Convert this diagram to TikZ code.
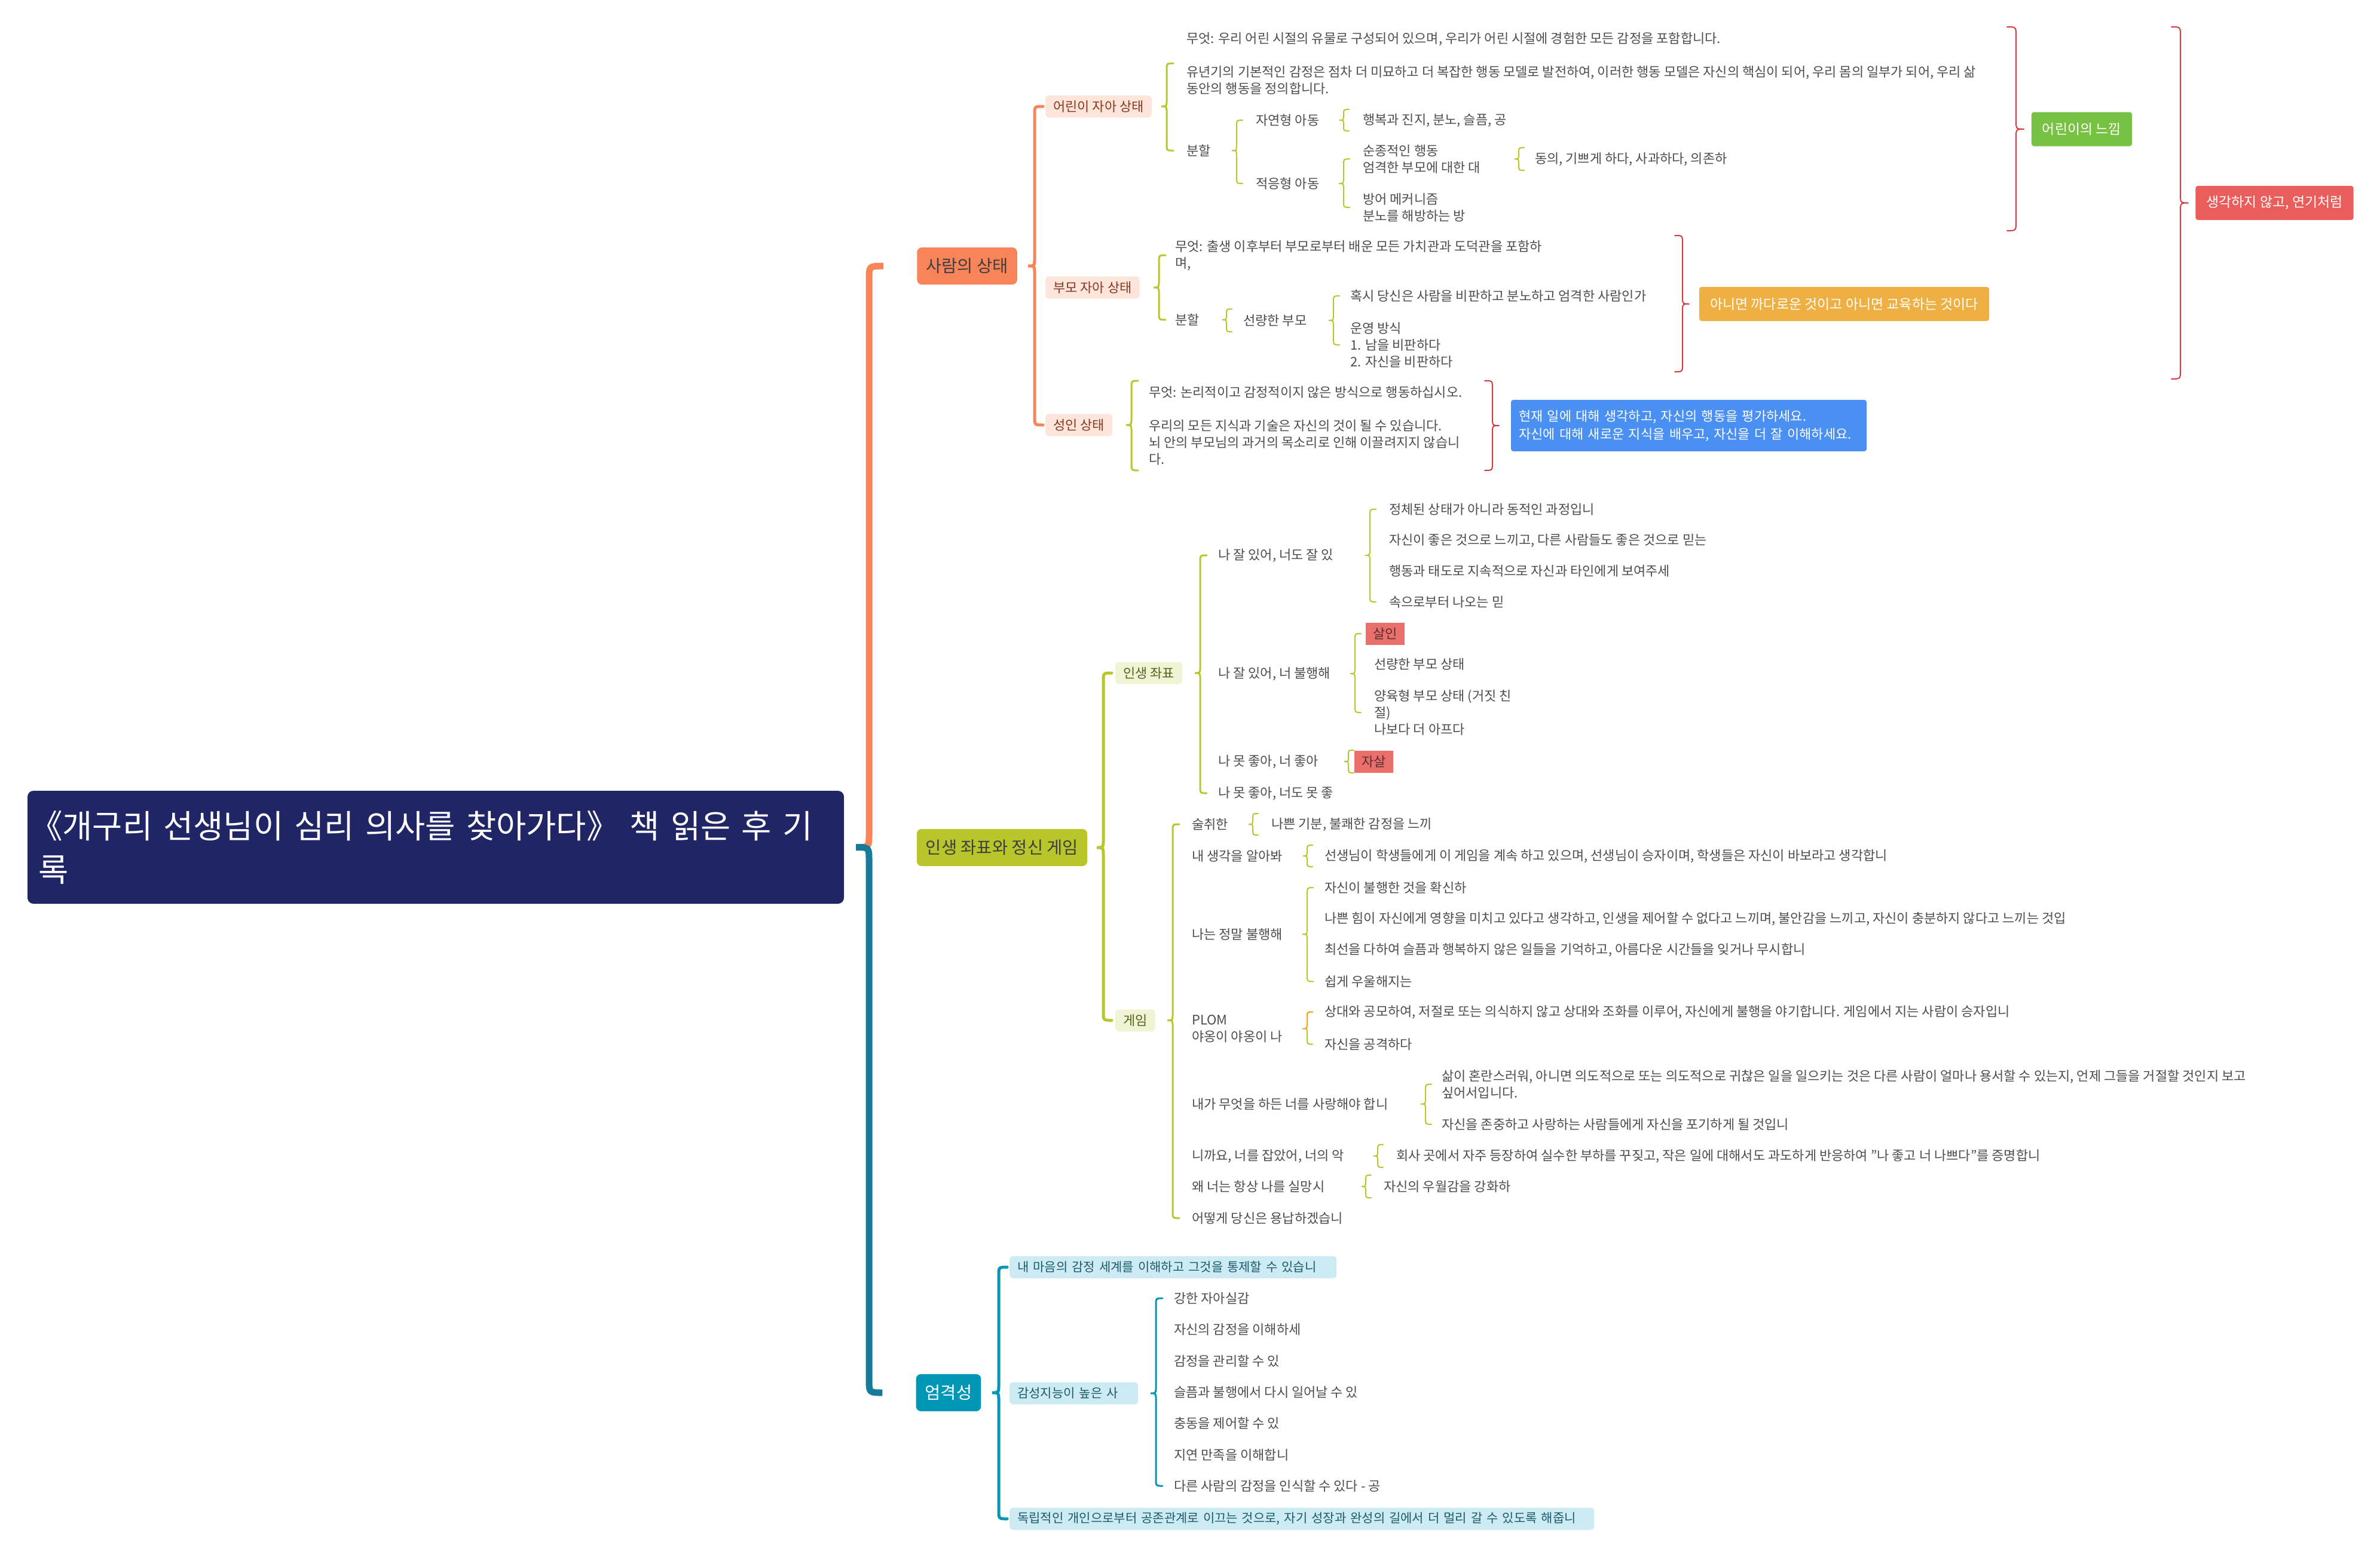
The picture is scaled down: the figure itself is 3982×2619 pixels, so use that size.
\documentclass[tikz,border=0pt]{standalone}
\usepackage{fontspec}
\setmainfont{Noto Sans CJK KR}
\usetikzlibrary{calc}
\definecolor{rootblue}{HTML}{202565}
\definecolor{orangeM}{HTML}{F98459}
\definecolor{greenM}{HTML}{B8C62B}
\definecolor{tealM}{HTML}{0097B7}
\definecolor{tealT}{HTML}{157B98}
\definecolor{maintxt}{HTML}{3F3F3F}
\definecolor{pinkbg}{HTML}{FEE5DC}
\definecolor{pinktxt}{HTML}{86391E}
\definecolor{greenbg}{HTML}{F0F4D5}
\definecolor{greentxt}{HTML}{56641A}
\definecolor{bluebg}{HTML}{CDEBF3}
\definecolor{bluetxt}{HTML}{1D5A6C}
\definecolor{txtgrey}{HTML}{4D4D4D}
\definecolor{redbr}{HTML}{D23A3F}
\definecolor{sumgreen}{HTML}{77C143}
\definecolor{sumred}{HTML}{E95D5B}
\definecolor{sumorange}{HTML}{EEB042}
\definecolor{sumblue}{HTML}{4990F2}
\definecolor{salmon}{HTML}{EA6F6B}
\definecolor{salmontxt}{HTML}{55302F}
\definecolor{plomorange}{HTML}{F5A623}

\newcommand\brcL[6]{%
 \draw[#1] let \p1=(#3), \p2=(#4), \p3=(#5) in
  ({#2pt+#6pt},\y2) .. controls ({#2pt},\y2) .. ({#2pt},{\y2-#6pt})
  -- ({#2pt},{\y1+#6pt}) .. controls ({#2pt},\y1) .. ({#2pt-0.8*#6pt},\y1)
  .. controls ({#2pt},\y1) .. ({#2pt},{\y1-#6pt})
  -- ({#2pt},{\y3+#6pt}) .. controls ({#2pt},\y3) .. ({#2pt+#6pt},\y3);}
\newcommand\brcR[6]{%
 \draw[#1] let \p1=(#3), \p2=(#4), \p3=(#5) in
  ({#2pt-#6pt},\y2) .. controls ({#2pt},\y2) .. ({#2pt},{\y2-#6pt})
  -- ({#2pt},{\y1+#6pt}) .. controls ({#2pt},\y1) .. ({#2pt+0.9*#6pt},\y1)
  .. controls ({#2pt},\y1) .. ({#2pt},{\y1-#6pt})
  -- ({#2pt},{\y3+#6pt}) .. controls ({#2pt},\y3) .. ({#2pt-#6pt},\y3);}

\tikzset{
 txt/.style={anchor=west, inner sep=0pt, align=left, text=txtgrey, font=\fontsize{22pt}{28pt}\selectfont},
 rootbox/.style={fill=rootblue, text=white, rounded corners=10pt, minimum height=189pt, text width=1330pt, inner xsep=18pt, align=left, font=\fontsize{54.6pt}{73pt}\selectfont},
 mainbox/.style={rounded corners=8pt, minimum height=62pt, inner xsep=15pt, inner ysep=0pt, font=\fontsize{28.5pt}{34pt}\selectfont},
 pinkbox/.style={anchor=west, fill=pinkbg, text=pinktxt, rounded corners=6pt, minimum height=37pt, inner xsep=13pt, inner ysep=0pt, font=\fontsize{22pt}{28pt}\selectfont},
 lgbox/.style={anchor=west, fill=greenbg, text=greentxt, rounded corners=6pt, minimum height=37pt, inner xsep=13pt, inner ysep=0pt, font=\fontsize{22pt}{28pt}\selectfont},
 lbbox/.style={anchor=west, fill=bluebg, text=bluetxt, rounded corners=6pt, minimum height=37pt, inner xsep=13pt, inner ysep=0pt, align=left, font=\fontsize{21pt}{28pt}\selectfont},
 redbox/.style={anchor=west, fill=salmon, text=salmontxt, minimum height=37pt, inner xsep=12pt, inner ysep=0pt, font=\fontsize{22pt}{28pt}\selectfont},
 sumbox/.style={text=white, rounded corners=4pt, minimum height=57pt, inner xsep=18pt, inner ysep=0pt, font=\fontsize{23pt}{30pt}\selectfont},
 trunkO/.style={draw=orangeM, line width=11pt},
 trunkT/.style={draw=tealT, line width=11pt},
 brO/.style={draw=orangeM, line width=5pt, line cap=round},
 brGL/.style={draw=greenM, line width=5pt, line cap=round},
 brTL/.style={draw=tealM, line width=5pt, line cap=round},
 brG3/.style={draw=greenM, line width=3pt, line cap=round},
 brG2/.style={draw=greenM, line width=2pt, line cap=round},
 brT3/.style={draw=tealM, line width=3pt, line cap=round},
 brR/.style={draw=redbr, line width=2pt, line cap=round},
}

\begin{document}
\begin{tikzpicture}[x=1pt,y=-1pt]
\fill[white] (0,0) rectangle (3982,2619);
\useasboundingbox (0,0) rectangle (3982,2619);

% root and main branches
\node[rootbox] (root) at (729,1417.5) {\hspace*{-14pt}《개구리 선생님이 심리 의사를 찾아가다》 책 읽은 후 기\\록};
\node[mainbox, fill=orangeM, text=maintxt] (n1) at (1618,445) {사람의 상태};
\node[mainbox, fill=greenM, text=maintxt] (n2) at (1676.5,1418) {인생 좌표와 정신 게임};
\node[mainbox, fill=tealM, text=white] (n3) at (1587,2330) {엄격성};

\draw[trunkO] let \p1=(root.east), \p2=(n1.west) in ({\x1+20pt},\y1) .. controls (1454pt,\y1) .. (1454pt,{\y1+23pt}) -- (1454pt,{\y2-23pt}) .. controls (1454pt,\y2) .. ({\x2-56pt},\y2);
\draw[trunkT] let \p1=(root.east), \p3=(n3.west) in ({\x1+20pt},\y1) .. controls (1454pt,\y1) .. (1454pt,{\y1-23pt}) -- (1454pt,{\y3+23pt}) .. controls (1454pt,\y3) .. ({\x3-56pt},\y3);

% ===== branch 1 =====
\node[pinkbox] (n11) at (1749,178) {어린이 자아 상태};
\node[pinkbox] (n12) at (1749,481) {부모 자아 상태};
\node[pinkbox] (n13) at (1749,711) {성인 상태};

\node[txt] (n111) at (1985,106) {무엇: 우리 어린 시절의 유물로 구성되어 있으며, 우리가 어린 시절에 경험한 모든 감정을 포함합니다.\\[28pt]유년기의 기본적인 감정은 점차 더 미묘하고 더 복잡한 행동 모델로 발전하여, 이러한 행동 모델은 자신의 핵심이 되어, 우리 몸의 일부가 되어, 우리 삶\\동안의 행동을 정의합니다.};
\node[txt] (n112) at (1985,252) {분할};
\node[txt] (n1121) at (2101,201) {자연형 아동};
\node[txt] (n11211) at (2280,201) {행복과 진지, 분노, 슬픔, 공};
\node[txt] (n1122) at (2101,307) {적응형 아동};
\node[txt] (n11221) at (2280,266) {순종적인 행동\\엄격한 부모에 대한 대};
\node[txt] (n112211) at (2568,266) {동의, 기쁘게 하다, 사과하다, 의존하};
\node[txt] (n11222) at (2280,347) {방어 메커니즘\\분노를 해방하는 방};

\node[txt] (n121) at (1966,427) {무엇: 출생 이후부터 부모로부터 배운 모든 가치관과 도덕관을 포함하\\며,};
\node[txt] (n122) at (1966,535) {분할};
\node[txt] (n1221) at (2080,536) {선량한 부모};
\node[txt] (n12211) at (2259,495) {혹시 당신은 사람을 비판하고 분노하고 엄격한 사람인가};
\node[txt] (n12212) at (2259,577) {운영 방식\\1. 남을 비판하다\\2. 자신을 비판하다};

\node[txt] (n131) at (1922,712) {무엇: 논리적이고 감정적이지 않은 방식으로 행동하십시오.\\[28pt]우리의 모든 지식과 기술은 자신의 것이 될 수 있습니다.\\뇌 안의 부모님의 과거의 목소리로 인해 이끌려지지 않습니\\다.};

\node[sumbox, fill=sumgreen] (s1) at (3483,216) {어린이의 느낌};
\node[sumbox, fill=sumred] (s2) at (3805.5,339.5) {생각하지 않고, 연기처럼};
\node[sumbox, fill=sumorange] (s3) at (3085.5,508.5) {아니면 까다로운 것이고 아니면 교육하는 것이다};
\node[sumbox, fill=sumblue, minimum height=86pt, text width=569pt, inner xsep=13pt, align=left, font=\fontsize{22pt}{30pt}\selectfont] (s4) at (2825.5,712) {현재 일에 대해 생각하고, 자신의 행동을 평가하세요.\\자신에 대해 새로운 지식을 배우고, 자신을 더 잘 이해하세요.};

\brcL{brO}{1731}{n1.center}{n11.center}{n13.center}{14}
\brcL{brG3}{1952}{n11.center}{n111.center}{n112.center}{11}
\brcL{brG2}{2069}{n112.center}{n1121.center}{n1122.center}{10}
\brcL{brG2}{2248}{n1121.center}{$(n11211.center)+(0,-18)$}{$(n11211.center)+(0,18)$}{9}
\brcL{brG2}{2248}{n1122.center}{n11221.center}{n11222.center}{10}
\brcL{brG2}{2541}{n11221.center}{$(n112211.center)+(0,-19)$}{$(n112211.center)+(0,19)$}{9}
\brcL{brG3}{1939}{n12.center}{n121.center}{n122.center}{11}
\brcL{brG2}{2052}{n122.center}{$(n1221.center)+(0,-19)$}{$(n1221.center)+(0,19)$}{9}
\brcL{brG2}{2231}{n1221.center}{n12211.center}{n12212.center}{10}
\brcL{brG3}{1893}{n13.center}{$(n131.center)+(0,-75)$}{$(n131.center)+(0,75)$}{11}

\coordinate (sb1t) at (3373,45); \coordinate (sb1b) at (3373,386);
\coordinate (sb2t) at (3648,45); \coordinate (sb2b) at (3648,634);
\coordinate (sb3t) at (2815,394); \coordinate (sb3b) at (2815,622);
\coordinate (sb4t) at (2497,637); \coordinate (sb4b) at (2497,787);
\brcR{brR}{3373}{s1.center}{sb1t}{sb1b}{15}
\brcR{brR}{3648}{s2.center}{sb2t}{sb2b}{15}
\brcR{brR}{2815}{s3.center}{sb3t}{sb3b}{13}
\brcR{brR}{2497}{s4.center}{sb4t}{sb4b}{13}

% ===== branch 2 =====
\node[lgbox] (n21) at (1866,1126) {인생 좌표};
\node[lgbox] (n22) at (1866,1707) {게임};

\node[txt] (n211) at (2038,929) {나 잘 있어, 너도 잘 있};
\node[txt] (n2111) at (2324,852) {정체된 상태가 아니라 동적인 과정입니};
\node[txt] (n2112) at (2324,904) {자신이 좋은 것으로 느끼고, 다른 사람들도 좋은 것으로 믿는};
\node[txt] (n2113) at (2324,955) {행동과 태도로 지속적으로 자신과 타인에게 보여주세};
\node[txt] (n2114) at (2324,1007) {속으로부터 나오는 믿};
\node[txt] (n212) at (2038,1127) {나 잘 있어, 너 불행해};
\node[redbox] (n2121) at (2285,1060) {살인};
\node[txt] (n2122) at (2299,1111) {선량한 부모 상태};
\node[txt] (n2123) at (2299,1192) {양육형 부모 상태 (거짓 친\\절)\\나보다 더 아프다};
\node[txt] (n213) at (2038,1274) {나 못 좋아, 너 좋아};
\node[redbox] (n2131) at (2266,1274) {자살};
\node[txt] (n214) at (2038,1327) {나 못 좋아, 너도 못 좋};

\node[txt] (n221) at (1994,1379) {술취한};
\node[txt] (n2211) at (2127,1379) {나쁜 기분, 불쾌한 감정을 느끼};
\node[txt] (n222) at (1994,1432) {내 생각을 알아봐};
\node[txt] (n2221) at (2216,1432) {선생님이 학생들에게 이 게임을 계속 하고 있으며, 선생님이 승자이며, 학생들은 자신이 바보라고 생각합니};
\node[txt] (n223) at (1994,1563) {나는 정말 불행해};
\node[txt] (n2231) at (2216,1485) {자신이 불행한 것을 확신하};
\node[txt] (n2232) at (2216,1537) {나쁜 힘이 자신에게 영향을 미치고 있다고 생각하고, 인생을 제어할 수 없다고 느끼며, 불안감을 느끼고, 자신이 충분하지 않다고 느끼는 것입};
\node[txt] (n2233) at (2216,1589) {최선을 다하여 슬픔과 행복하지 않은 일들을 기억하고, 아름다운 시간들을 잊거나 무시합니};
\node[txt] (n2234) at (2216,1642) {쉽게 우울해지는};
\node[txt] (n224) at (1994,1721) {PLOM\\야옹이 야옹이 나};
\node[txt] (n2241) at (2216,1693) {상대와 공모하여, 저절로 또는 의식하지 않고 상대와 조화를 이루어, 자신에게 불행을 야기합니다. 게임에서 지는 사람이 승자입니};
\node[txt] (n2242) at (2216,1747) {자신을 공격하다};
\node[txt] (n225) at (1994,1847) {내가 무엇을 하든 너를 사랑해야 합니};
\node[txt] (n2251) at (2412,1814) {삶이 혼란스러워, 아니면 의도적으로 또는 의도적으로 귀찮은 일을 일으키는 것은 다른 사람이 얼마나 용서할 수 있는지, 언제 그들을 거절할 것인지 보고\\싶어서입니다.};
\node[txt] (n2252) at (2412,1881) {자신을 존중하고 사랑하는 사람들에게 자신을 포기하게 될 것입니};
\node[txt] (n226) at (1994,1934) {니까요, 너를 잡았어, 너의 악};
\node[txt] (n2261) at (2336,1934) {회사 곳에서 자주 등장하여 실수한 부하를 꾸짖고, 작은 일에 대해서도 과도하게 반응하여 "나 좋고 너 나쁘다"를 증명합니};
\node[txt] (n227) at (1994,1985) {왜 너는 항상 나를 실망시};
\node[txt] (n2271) at (2315,1985) {자신의 우월감을 강화하};
\node[txt] (n228) at (1994,2038) {어떻게 당신은 용납하겠습니};

\brcL{brGL}{1846}{n2.center}{n21.center}{n22.center}{14}
\brcL{brG3}{2008}{n21.center}{n211.center}{n214.center}{11}
\brcL{brG2}{2292}{n211.center}{n2111.center}{n2114.center}{10}
\brcL{brG2}{2267}{n212.center}{n2121.center}{n2123.center}{10}
\brcL{brG2}{2256}{n213.center}{$(n2131.center)+(0,-19)$}{$(n2131.center)+(0,19)$}{9}
\brcL{brG3}{1962}{n22.center}{n221.center}{n228.center}{11}
\brcL{brG2}{2096}{n221.center}{$(n2211.center)+(0,-18)$}{$(n2211.center)+(0,18)$}{9}
\brcL{brG2}{2187}{n222.center}{$(n2221.center)+(0,-18)$}{$(n2221.center)+(0,18)$}{9}
\brcL{brG2}{2187}{n223.center}{n2231.center}{n2234.center}{10}
\brcL{brG2}{2187}{n224.center}{n2241.center}{n2242.center}{9}
\draw[draw=plomorange, line width=2pt, line cap=round] let \p1=(n224.center), \p2=(n2241.center) in
  ({2196pt},\y2) .. controls ({2187pt},\y2) .. ({2187pt},{\y2-9pt}) -- ({2187pt},{\y1+9pt}) .. controls ({2187pt},\y1) .. ({2179.8pt},\y1);
\brcL{brG2}{2385}{n225.center}{n2251.center}{n2252.center}{10}
\brcL{brG2}{2305}{n226.center}{$(n2261.center)+(0,-19)$}{$(n2261.center)+(0,19)$}{9}
\brcL{brG2}{2285}{n227.center}{$(n2271.center)+(0,-19)$}{$(n2271.center)+(0,19)$}{9}

% ===== branch 3 =====
\node[lbbox, text width=521pt] (n31) at (1689,2120) {\mbox{내 마음의 감정 세계를 이해하고 그것을 통제할 수 있습니}};
\node[lbbox, text width=189pt] (n32) at (1689,2331) {\mbox{감성지능이 높은 사}};
\node[lbbox, text width=952pt] (n33) at (1689,2541) {\mbox{독립적인 개인으로부터 공존관계로 이끄는 것으로, 자기 성장과 완성의 길에서 더 멀리 갈 수 있도록 해줍니}};

\node[txt] (n321) at (1964,2172) {강한 자아실감};
\node[txt] (n322) at (1964,2224) {자신의 감정을 이해하세};
\node[txt] (n323) at (1964,2277) {감정을 관리할 수 있};
\node[txt] (n324) at (1964,2329) {슬픔과 불행에서 다시 일어날 수 있};
\node[txt] (n325) at (1964,2381) {충동을 제어할 수 있};
\node[txt] (n326) at (1964,2434) {지연 만족을 이해합니};
\node[txt] (n327) at (1964,2486) {다른 사람의 감정을 인식할 수 있다 - 공};

\brcL{brTL}{1671}{n3.center}{n31.center}{n33.center}{14}
\brcL{brT3}{1934}{n32.center}{n321.center}{n327.center}{11}
\end{tikzpicture}
\end{document}
